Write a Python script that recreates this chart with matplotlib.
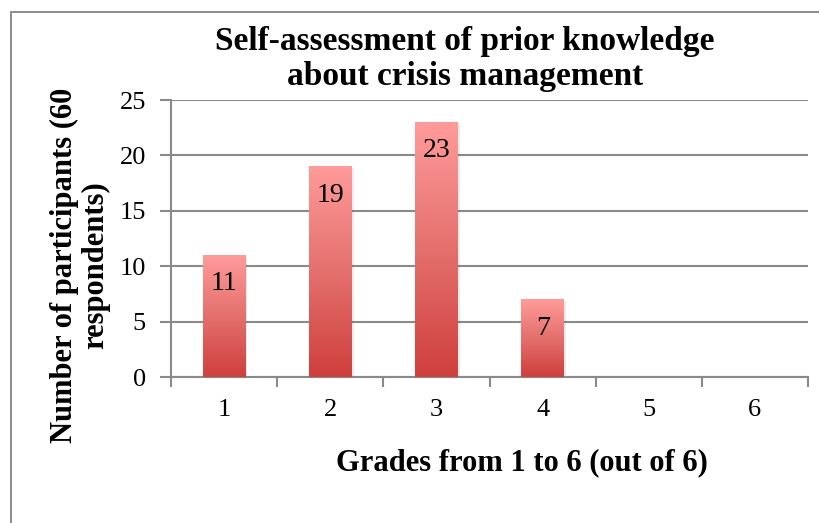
import numpy as np
import matplotlib.pyplot as plt
from matplotlib.colors import LinearSegmentedColormap
from matplotlib.patches import Rectangle

grades = ['1', '2', '3', '4', '5', '6']
counts = [11, 19, 23, 7, 0, 0]

plt.rcParams['font.family'] = ['Liberation Serif', 'DejaVu Serif']

W, H = 819, 523
fig = plt.figure(figsize=(W / 100, H / 100), dpi=100)
fig.patch.set_facecolor('white')

# outer chart frame (excel style)
fig.add_artist(Rectangle((11 / W, -0.05), 1.2, 1 - 12 / H + 0.05, transform=fig.transFigure,
                         fill=False, edgecolor='#8c8c8c', linewidth=1.4))

ax = fig.add_axes([171 / W, (H - 377) / H, (808 - 171) / W, (377 - 100) / H])
x = np.arange(1, len(grades) + 1)

grid_col = '#8a8a8a'
ax.set_xlim(0.5, 6.5)
ax.set_ylim(0, 25)
ax.set_yticks(range(0, 26, 5))
ax.yaxis.grid(True, color=grid_col, linewidth=1.5)
ax.set_axisbelow(True)
for s in ['top', 'right']:
    ax.spines[s].set_visible(False)
for s in ['left', 'bottom']:
    ax.spines[s].set_color(grid_col)
    ax.spines[s].set_linewidth(1.5)

cmap = LinearSegmentedColormap.from_list('redgrad', ['#cf3f3d', '#e4706d', '#ff9b9a'])
grad = np.linspace(0, 1, 256).reshape(-1, 1)
bars = ax.bar(x, counts, width=0.4, color='none', edgecolor='none', zorder=3)
for b in bars:
    h = b.get_height()
    if h <= 0:
        continue
    x0 = b.get_x()
    # soft shadow
    ax.add_patch(Rectangle((x0 + 0.02, 0), b.get_width(), h - 0.15, facecolor='#000000',
                           alpha=0.08, edgecolor='none', zorder=2))
    im = ax.imshow(grad, extent=[x0, x0 + b.get_width(), 0, h], origin='lower',
                   cmap=cmap, aspect='auto', zorder=3)
    im.set_clip_path(b)

for xi, v in zip(x, counts):
    if v > 0:
        ax.text(xi, v - 2.6, str(v), ha='center', va='center', fontsize=20, color='black', zorder=4)

ax.set_xticks(x)
ax.set_xticklabels(grades)
ax.set_xticks(np.arange(0.5, 7.0, 1.0), minor=True)
ax.tick_params(axis='x', which='major', length=0, pad=16, labelsize=19)
ax.tick_params(axis='x', which='minor', length=7, width=1.5, color=grid_col)
ax.tick_params(axis='y', length=8, width=1.5, color=grid_col, pad=10, labelsize=19)

fig.text(522 / W, 1 - 463 / H, 'Grades from 1 to 6 (out of 6)', ha='center', va='center',
         fontsize=22, fontweight='bold')
fig.text(80 / W, 1 - 265 / H, 'Number of participants (60\nrespondents)', ha='center', va='center',
         rotation=90, fontsize=22, fontweight='bold', linespacing=1.05)
fig.text(465 / W, 1 - 59 / H, 'Self-assessment of prior knowledge\nabout crisis management',
         ha='center', va='center', fontsize=24, fontweight='bold', linespacing=1.15)

fig.savefig('out.png', dpi=100)
